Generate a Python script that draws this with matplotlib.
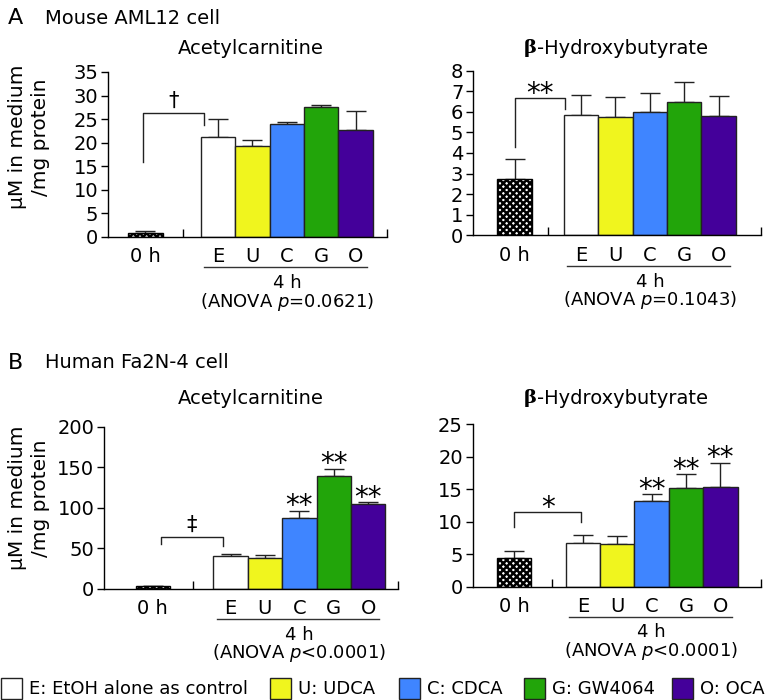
import numpy as np
import matplotlib
matplotlib.use("Agg")
from matplotlib import pyplot as plt
from matplotlib.patches import Rectangle
from matplotlib.transforms import blended_transform_factory

plt.rcParams['font.family'] = ['DejaVu Sans']
plt.rcParams['hatch.linewidth'] = 1.8
plt.rcParams['axes.linewidth'] = 1.0

# --- data -------------------------------------------------------------
groups = ['E', 'U', 'C', 'G', 'O']
colors = ['#ffffff', '#f0f51e', '#3f85ff', '#22a50a', '#44009a']
legend_labels = ['E: EtOH alone as control', 'U: UDCA', 'C: CDCA',
                 'G: GW4064', 'O: OCA']

# first value = 0 h, then E, U, C, G, O at 4 h
a_acetyl_mean = [0.9, 21.2, 19.4, 24.0, 27.5, 22.7]
a_acetyl_err = [0.3, 3.8, 1.1, 0.3, 0.6, 4.1]
a_bhb_mean = [2.73, 5.86, 5.73, 5.97, 6.46, 5.81]
a_bhb_err = [0.96, 0.95, 0.97, 0.95, 0.97, 0.95]
b_acetyl_mean = [3.3, 41.0, 38.6, 87.9, 139.6, 104.7]
b_acetyl_err = [0.8, 2.5, 3.3, 8.1, 8.6, 2.1]
b_bhb_mean = [4.42, 6.78, 6.63, 13.25, 15.15, 15.4]
b_bhb_err = [1.03, 1.18, 1.23, 0.95, 2.15, 3.7]

a_acetyl_ticks = [0, 5, 10, 15, 20, 25, 30, 35]
a_bhb_ticks = [0, 1, 2, 3, 4, 5, 6, 7, 8]
b_acetyl_ticks = [0, 50, 100, 150, 200]
b_bhb_ticks = [0, 5, 10, 15, 20, 25]

no_stars = ['', '', '', '', '', '']
b_stars = ['', '', '', '**', '**', '**']

# bracket 0 h vs E: (left leg bottom, top, right leg bottom)
a_acetyl_bracket = (16.0, 26.4, 23.8)
a_bhb_bracket = (4.3, 6.68, 6.13)
b_acetyl_bracket = (56.0, 64.5, 53.0)
b_bhb_bracket = (9.24, 11.55, 9.9)

a_anova = '(ANOVA $p$=0.0621)'
a_anova2 = '(ANOVA $p$=0.1043)'
b_anova = '(ANOVA $p$<0.0001)'

# vertical centre of glyph above baseline, in em (DejaVu Sans)
glyph_mid = {'*': 0.59, '†': 0.31, '‡': 0.31}

W, H = 767, 700
fig = plt.figure(figsize=(W / 100, H / 100), dpi=100)


def px_rect(left, top, right, bottom):
    return [left / W, 1 - bottom / H, (right - left) / W, (bottom - top) / H]


def put_symbol(ax, text, x, y, size, gap_px=12):
    # place symbol so its visual centre sits gap_px above (x, y)
    mid = glyph_mid[text[0]] * size * 100 / 72
    dy = (gap_px - mid) * 72 / 100
    ax.annotate(text, xy=(x, y), xytext=(0, dy), textcoords='offset points',
                ha='center', va='baseline', fontsize=size, annotation_clip=False)


def draw_panel(rect, means, errs, yticks, stars, bracket, sig, anova, layout):
    x0, xe, sep, xmax, dl, dr = layout
    ax = fig.add_axes(rect)
    xs = np.r_[x0, xe + np.arange(len(groups))]
    means = np.asarray(means)
    errs = np.asarray(errs)

    ax.errorbar(xs, means, yerr=[np.zeros_like(errs), errs], fmt='none',
                ecolor='#222222', elinewidth=1, capsize=7, capthick=1, zorder=1)
    ax.bar(xs[0], means[0], width=1, color='white', edgecolor='black',
           hatch='xxxxx', linewidth=1, zorder=2)
    ax.bar(xs[1:], means[1:], width=1, color=colors, edgecolor='#222222',
           linewidth=1, zorder=2)

    ax.set_xlim(0, xmax)
    ax.set_ylim(0, yticks[-1])
    ax.spines[['top', 'right']].set_visible(False)
    ax.set_yticks(yticks)
    ax.tick_params(axis='y', labelsize=14, length=5, width=1, pad=2)
    ax.set_xticks([sep, xmax])
    ax.set_xticklabels([])
    ax.tick_params(axis='x', direction='in', length=6, width=1)

    trans = blended_transform_factory(ax.transData, ax.transAxes)
    ax.text(xs[0], -0.121, '0 h', transform=trans, ha='center', va='center',
            fontsize=14)
    for x, g in zip(xs[1:], groups):
        ax.text(x, -0.121, g, transform=trans, ha='center', va='center',
                fontsize=14)
    ax.plot([xe - 0.4, xe + 4.33], [-0.184, -0.184], transform=trans,
            color='#333333', lw=1, clip_on=False)
    ax.text(xe + 2, -0.281, '4 h', transform=trans, ha='center', va='center',
            fontsize=13)
    ax.text(xe + 2, -0.396, anova, transform=trans, ha='center', va='center',
            fontsize=13)

    for x, m, e, s in zip(xs, means, errs, stars):
        if s:
            put_symbol(ax, s, x, m + e, 20, gap_px=13)

    lb, top, rb = bracket
    bl, br = xs[0] + dl, xs[1] + dr
    ax.plot([bl, bl, br, br], [lb, top, top, rb], color='#222222', lw=1,
            clip_on=False)
    size = 20 if sig.startswith('*') else 15
    put_symbol(ax, sig, (bl + br) / 2, top, size, gap_px=12)
    return ax


draw_panel(px_rect(108, 72, 387, 237), a_acetyl_mean, a_acetyl_err,
           a_acetyl_ticks, no_stars, a_acetyl_bracket, '†', a_anova,
           (1.09, 3.20, 2.18, 8.11, -0.07, -0.41))
draw_panel(px_rect(473, 70.7, 761, 235.3), a_bhb_mean, a_bhb_err,
           a_bhb_ticks, no_stars, a_bhb_bracket, '**', a_anova2,
           (1.21, 3.14, 2.18, 8.37, 0.0, -0.48))
draw_panel(px_rect(104, 426.7, 398, 589), b_acetyl_mean, b_acetyl_err,
           b_acetyl_ticks, b_stars, b_acetyl_bracket, '‡', b_anova,
           (1.42, 3.68, 2.59, 8.55, 0.23, -0.22))
draw_panel(px_rect(472.7, 424.3, 761, 586.7), b_bhb_mean, b_bhb_err,
           b_bhb_ticks, b_stars, b_bhb_bracket, '*', b_anova,
           (1.20, 3.20, 2.30, 8.38, 0.0, -0.04))

# panel headings
fig.text(8 / W, 1 - 18 / H, 'A', fontsize=16, va='center')
fig.text(45 / W, 1 - 18 / H, 'Mouse AML12 cell', fontsize=14, va='center')
fig.text(8 / W, 1 - 363 / H, 'B', fontsize=16, va='center')
fig.text(45 / W, 1 - 363 / H, 'Human Fa2N-4 cell', fontsize=14, va='center')

# titles
for ty in (48, 398):
    fig.text(251 / W, 1 - ty / H, 'Acetylcarnitine', fontsize=14,
             ha='center', va='center')
    fig.text(537 / W, 1 - ty / H, 'β', fontsize=14, family='DejaVu Serif',
             weight='bold', ha='right', va='center')
    fig.text(537 / W, 1 - ty / H, '-Hydroxybutyrate', fontsize=14,
             ha='left', va='center')

# y labels
for yc in (137, 498):
    fig.text(29 / W, 1 - yc / H, 'μM in medium\n/mg protein', fontsize=14.5,
             rotation=90, ha='center', va='center', linespacing=1.25)

# legend
box_x = [1, 270, 399, 524, 672]
for bx, c, lab in zip(box_x, colors, legend_labels):
    fig.add_artist(Rectangle((bx / W, 1 - 699 / H), 21 / W, 21 / H,
                             facecolor=c, edgecolor='#222222', lw=1,
                             transform=fig.transFigure))
    fig.text((bx + 28) / W, 1 - 689 / H, lab, fontsize=13, va='center')

fig.savefig('out.png', dpi=100)
